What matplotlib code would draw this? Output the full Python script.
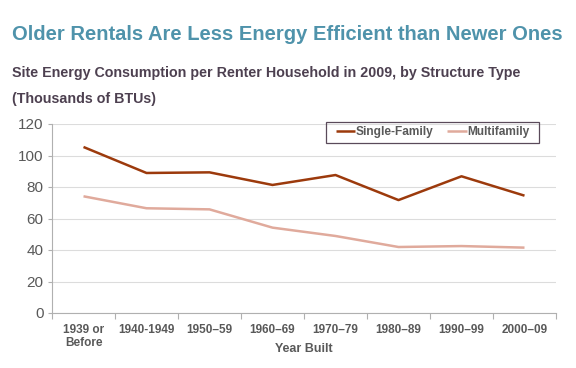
import matplotlib
matplotlib.use("Agg")
import matplotlib.pyplot as plt
from matplotlib.patches import Rectangle
import numpy as np

categories = ["1939 or\nBefore", "1940-1949", "1950\u201359", "1960\u201369", "1970\u201379", "1980\u201389", "1990\u201399", "2000\u201309"]
single_family = [105.4, 88.9, 89.3, 81.3, 87.6, 71.7, 86.8, 74.5]
multifamily = [74.1, 66.5, 65.8, 54.2, 48.9, 41.9, 42.5, 41.5]
yticks = [0, 20, 40, 60, 80, 100, 120]

plt.rcParams['font.family'] = ['Liberation Sans', 'DejaVu Sans']

W, H = 576, 368
fig = plt.figure(figsize=(W/100, H/100), dpi=100)
ax = fig.add_axes([52/W, 1-313/H, 504/W, 189/H])

x = np.arange(len(categories))
ax.plot(x, single_family, color='#9c3a0c', lw=1.8, label='Single-Family', solid_capstyle='butt')
ax.plot(x, multifamily, color='#e0aa9c', lw=1.8, label='Multifamily', solid_capstyle='butt')

ax.set_xlim(-0.5, len(categories) - 0.5)
ax.set_ylim(0, 120)
ax.set_yticks(yticks)
ax.yaxis.grid(True, color='#dcdcdc', lw=0.8)
ax.set_axisbelow(True)

ax.set_xticks(np.arange(-0.5, len(categories)), minor=False)
ax.set_xticklabels([''] * (len(categories) + 1))
ax.set_xticks(x, minor=True)
ax.set_xticklabels(categories, minor=True, fontsize=8.5, fontweight='bold', color='#595959')
ax.tick_params(axis='x', which='minor', length=0, pad=8)
ax.tick_params(axis='x', which='major', length=4, color='#b0b0b0', direction='out')
ax.tick_params(axis='y', length=3, color='#b0b0b0', labelsize=11, labelcolor='#595959', pad=3)
for lab in ax.get_xticklabels(minor=True):
    lab.set_linespacing(1.1)

for s in ['top', 'right']:
    ax.spines[s].set_visible(False)
for s in ['left', 'bottom']:
    ax.spines[s].set_color('#b0b0b0')
    ax.spines[s].set_linewidth(0.8)

ax.set_xlabel('Year Built', fontsize=9, fontweight='bold', color='#595959')
ax.xaxis.set_label_coords(0.5, -0.16)

# legend content, framed by a rectangle with wider side padding
leg_cx, leg_cy = 432.5, 132.3
leg = ax.legend(loc='center', bbox_to_anchor=(leg_cx/W, 1-leg_cy/H), bbox_transform=fig.transFigure,
                borderaxespad=0, ncol=2, frameon=False,
                handlelength=1.6, handletextpad=0.05, columnspacing=1.2,
                borderpad=0, prop={'weight': 'bold', 'size': 8.6})
for t in leg.get_texts():
    t.set_color('#595959')
fig.patches.append(Rectangle((326/W, 1-142.5/H), (539-326)/W, 20.5/H, transform=fig.transFigure,
                             fill=False, edgecolor='#5a4a5a', lw=0.9, figure=fig))

fig.text(12/W, 1-35/H, 'Older Rentals Are Less Energy Efficient than Newer Ones',
         fontsize=14.5, fontweight='bold', color='#4f93ab', va='center', ha='left')
fig.text(12/W, 1-73.5/H, 'Site Energy Consumption per Renter Household in 2009, by Structure Type',
         fontsize=10.3, fontweight='bold', color='#4d4050', va='center', ha='left')
fig.text(12/W, 1-98.5/H, '(Thousands of BTUs)',
         fontsize=10.3, fontweight='bold', color='#4d4050', va='center', ha='left')

fig.savefig('out.png', dpi=100)
